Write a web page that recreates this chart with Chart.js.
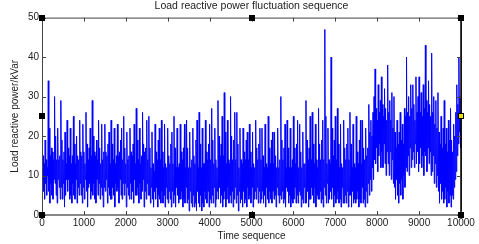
<!DOCTYPE html>
<html>
<head>
<meta charset="utf-8">
<script src="https://cdn.jsdelivr.net/npm/chart.js@4"></script>
<style>
  html, body { margin: 0; padding: 0; background: #fff; }
  #wrap { width: 479px; height: 244px; position: relative; }
</style>
</head>
<body>
<div id="wrap"><canvas id="chart"></canvas></div>
<script>
// one window every 25 units of the time sequence: highest and lowest value read in it
const sampleStep = 25;
const windowPeaks = [
  21, 15, 13, 19, 14, 12,
  34, 22, 15, 17, 16, 14,
  30, 20, 14, 22, 14, 15,
  29, 19, 14, 16, 21, 13,
  24, 17, 15, 22, 13, 15,
  25, 18, 13, 20, 15, 14,
  24, 16, 15, 23, 16, 13,
  26, 18, 14, 17, 22, 15,
  29, 20, 16, 15, 19, 14,
  24, 17, 13, 23, 14, 16,
  23, 16, 15, 18, 21, 13,
  24, 18, 14, 22, 13, 15,
  23, 15, 16, 19, 22, 14,
  25, 17, 13, 21, 14, 15,
  22, 16, 15, 18, 23, 13,
  27, 19, 14, 22, 13, 15,
  26, 18, 16, 17, 24, 14,
  25, 17, 12, 21, 13, 11,
  23, 16, 14, 19, 22, 14,
  24, 16, 12, 23, 13, 12,
  22, 15, 13, 18, 21, 13,
  25, 17, 12, 22, 12, 13,
  23, 16, 14, 17, 23, 12,
  24, 17, 12, 21, 12, 14,
  22, 15, 13, 19, 24, 12,
  26, 18, 12, 22, 13, 13,
  24, 16, 14, 18, 23, 14,
  27, 19, 13, 22, 14, 12,
  29, 20, 15, 18, 25, 15,
  31, 21, 13, 24, 14, 13,
  30, 20, 14, 19, 26, 14,
  26, 18, 12, 22, 14, 13,
  22, 16, 14, 19, 21, 14,
  23, 16, 12, 21, 13, 12,
  24, 17, 14, 18, 22, 14,
  22, 15, 12, 23, 13, 12,
  25, 17, 13, 19, 21, 13,
  21, 15, 12, 22, 12, 14,
  30, 19, 14, 17, 23, 12,
  24, 17, 12, 22, 12, 14,
  25, 17, 13, 18, 24, 12,
  23, 16, 12, 21, 13, 13,
  29, 19, 14, 17, 25, 14,
  26, 18, 13, 23, 14, 12,
  27, 18, 14, 19, 24, 14,
  47, 25, 13, 22, 14, 13,
  40, 22, 15, 19, 25, 14,
  27, 18, 12, 23, 13, 12,
  24, 17, 14, 18, 22, 14,
  26, 18, 12, 23, 13, 12,
  25, 16, 13, 19, 24, 13,
  24, 17, 14, 22, 15, 17,
  28, 21, 24, 20, 26, 30,
  37, 27, 24, 33, 26, 29,
  35, 28, 25, 32, 27, 24,
  38, 26, 29, 24, 31, 22,
  30, 21, 17, 24, 18, 21,
  26, 19, 23, 18, 27, 25,
  40, 26, 30, 25, 33, 27,
  33, 28, 24, 35, 26, 30,
  35, 26, 31, 25, 33, 27,
  43, 29, 26, 34, 28, 25,
  41, 26, 30, 23, 29, 22,
  31, 21, 18, 25, 17, 22,
  29, 18, 22, 16, 24, 19,
  27, 19, 16, 23, 20, 26,
  33, 28, 40, 30, 26
];
const windowTroughs = [
  9, 6, 4, 8, 5, 10,
  6, 3, 8, 5, 4, 9,
  8, 5, 3, 9, 7, 4,
  7, 4, 8, 2, 5, 9,
  6, 9, 4, 5, 3, 8,
  5, 4, 9, 3, 7, 5,
  8, 5, 3, 7, 4, 9,
  6, 2, 7, 8, 4, 6,
  5, 8, 4, 3, 9, 5,
  8, 4, 7, 5, 2, 7,
  6, 9, 3, 7, 5, 4,
  4, 7, 5, 2, 8, 6,
  7, 3, 9, 5, 4, 8,
  5, 8, 2, 7, 5, 4,
  8, 4, 6, 3, 9, 5,
  5, 7, 3, 8, 4, 6,
  9, 2, 6, 4, 8, 5,
  5, 3, 7, 4, 2, 6,
  4, 7, 2, 5, 4, 3,
  6, 3, 5, 2, 7, 4,
  3, 6, 4, 2, 6, 3,
  5, 2, 7, 5, 3, 4,
  4, 6, 2, 4, 3, 7,
  3, 4, 1, 6, 3, 2,
  5, 2, 3, 1, 6, 3,
  2, 5, 1, 3, 2, 6,
  4, 3, 6, 2, 4, 3,
  5, 3, 7, 2, 4, 6,
  4, 7, 3, 5, 2, 4,
  6, 2, 4, 7, 3, 5,
  3, 6, 2, 4, 7, 3,
  5, 1, 6, 3, 4, 2,
  6, 3, 4, 2, 7, 4,
  5, 3, 7, 2, 4, 6,
  4, 7, 3, 6, 3, 4,
  6, 3, 5, 2, 7, 4,
  3, 6, 4, 3, 6, 4,
  5, 2, 7, 5, 3, 5,
  4, 6, 3, 4, 2, 7,
  6, 3, 5, 2, 4, 3,
  4, 7, 3, 5, 3, 6,
  5, 2, 4, 3, 7, 3,
  3, 6, 2, 4, 4, 7,
  5, 3, 7, 2, 5, 4,
  4, 6, 3, 4, 2, 7,
  5, 3, 8, 3, 4, 6,
  4, 7, 2, 5, 3, 4,
  6, 3, 4, 2, 7, 3,
  3, 5, 3, 6, 2, 5,
  5, 2, 6, 3, 4, 3,
  4, 6, 2, 4, 3, 7,
  3, 4, 2, 6, 3, 8,
  5, 9, 6, 12, 9, 14,
  13, 17, 11, 15, 18, 12,
  16, 12, 18, 13, 10, 16,
  13, 10, 16, 9, 14, 8,
  7, 4, 9, 5, 3, 8,
  5, 9, 4, 10, 7, 12,
  11, 15, 10, 17, 12, 14,
  16, 12, 18, 13, 16, 11,
  13, 17, 12, 15, 10, 16,
  15, 11, 17, 13, 16, 10,
  11, 15, 8, 13, 7, 10,
  6, 3, 8, 4, 6, 3,
  4, 7, 2, 6, 3, 5,
  2, 5, 4, 7, 9, 11,
  15, 18, 21, 17, 14
];
const xTicks = [0, 1000, 2000, 3000, 4000, 5000, 6000, 7000, 8000, 9000, 10000];
const yTicks = [0, 10, 20, 30, 40, 50];

const FONT = "'Liberation Sans', Arial, sans-serif";

// MATLAB style box, inward ticks and the figure selection handles
const boxPlugin = {
  id: 'box',
  afterDraw(chart) {
    const ctx = chart.ctx;
    const a = chart.chartArea;
    const xs = chart.scales.x, ys = chart.scales.y;
    ctx.save();
    ctx.strokeStyle = '#444';
    ctx.lineWidth = 1;
    ctx.strokeRect(a.left + 0.5, a.top + 0.5, a.right - a.left, a.bottom - a.top);
    // bottom axis looks heavier and grey
    ctx.strokeStyle = '#888';
    ctx.lineWidth = 2;
    ctx.beginPath();
    ctx.moveTo(a.left, a.bottom);
    ctx.lineTo(a.right, a.bottom);
    ctx.stroke();
    // right edge black
    ctx.strokeStyle = '#000';
    ctx.lineWidth = 1.5;
    ctx.beginPath();
    ctx.moveTo(a.right, a.top);
    ctx.lineTo(a.right, a.bottom);
    ctx.stroke();

    ctx.strokeStyle = '#444';
    ctx.lineWidth = 1;
    ctx.beginPath();
    xTicks.forEach(v => {
      const px = Math.round(xs.getPixelForValue(v)) + 0.5;
      ctx.moveTo(px, a.bottom); ctx.lineTo(px, a.bottom - 4);
      ctx.moveTo(px, a.top); ctx.lineTo(px, a.top + 4);
    });
    yTicks.forEach(v => {
      const py = Math.round(ys.getPixelForValue(v)) + 0.5;
      ctx.moveTo(a.left, py); ctx.lineTo(a.left + 4, py);
      ctx.moveTo(a.right, py); ctx.lineTo(a.right - 4, py);
    });
    ctx.stroke();

    const midX = (a.left + a.right) / 2, midY = (a.top + a.bottom) / 2;
    const handles = [
      [a.left, a.top], [midX, a.top], [a.right, a.top],
      [a.left, midY],
      [a.left, a.bottom], [midX, a.bottom], [a.right, a.bottom]
    ];
    ctx.fillStyle = '#000';
    handles.forEach(([hx, hy]) => ctx.fillRect(Math.round(hx) - 3, Math.round(hy) - 3, 6, 6));
    ctx.fillRect(Math.round(a.right) - 3, Math.round(midY) - 3, 6, 6);
    ctx.fillStyle = '#e8e000';
    ctx.fillRect(Math.round(a.right) - 2, Math.round(midY) - 2, 4, 4);
    ctx.restore();
  }
};

// zigzag through each window: its peak, then its trough
const points = [];
windowPeaks.forEach((v, i) => {
  points.push({ x: i * sampleStep, y: v });
  points.push({ x: i * sampleStep + sampleStep / 2, y: windowTroughs[i] });
});

new Chart(document.getElementById('chart'), {
  type: 'line',
  data: {
    datasets: [{
      data: points,
      borderColor: '#0000ff',
      borderWidth: 1,
      pointRadius: 0,
      tension: 0,
      fill: false
    }]
  },
  options: {
    responsive: true,
    maintainAspectRatio: false,
    animation: false,
    events: [],
    layout: { padding: { left: 0, right: 18, top: 0, bottom: 0 } },
    plugins: {
      legend: { display: false },
      tooltip: { enabled: false },
      title: {
        display: true,
        fullSize: false,
        text: 'Load reactive power fluctuation sequence',
        color: '#222',
        font: { family: FONT, size: 10.5, weight: 'normal' },
        padding: { top: 0, bottom: 5 }
      }
    },
    scales: {
      x: {
        type: 'linear',
        min: 0,
        max: 10000,
        afterBuildTicks: s => { s.ticks = xTicks.map(v => ({ value: v })); },
        afterFit: s => { s.height = 29; },
        grid: { display: false, drawTicks: false },
        border: { display: false },
        ticks: {
          color: '#222', padding: 2, maxRotation: 0, autoSkip: false,
          font: { family: FONT, size: 10 },
          callback: v => String(v)
        },
        title: {
          display: true,
          text: 'Time sequence',
          color: '#222',
          padding: { top: 0, bottom: 2 },
          font: { family: FONT, size: 10 }
        }
      },
      y: {
        min: 0,
        max: 50,
        afterBuildTicks: s => { s.ticks = yTicks.map(v => ({ value: v })); },
        afterFit: s => { s.width = 42; },
        grid: { display: false, drawTicks: false },
        border: { display: false },
        ticks: {
          color: '#222', padding: 3,
          font: { family: FONT, size: 10 },
          callback: v => String(v)
        },
        title: {
          display: true,
          text: 'Load reactive power/kVar',
          color: '#222',
          padding: { top: 9, bottom: 0 },
          font: { family: FONT, size: 10 }
        }
      }
    }
  },
  plugins: [boxPlugin]
});
</script>
</body>
</html>
